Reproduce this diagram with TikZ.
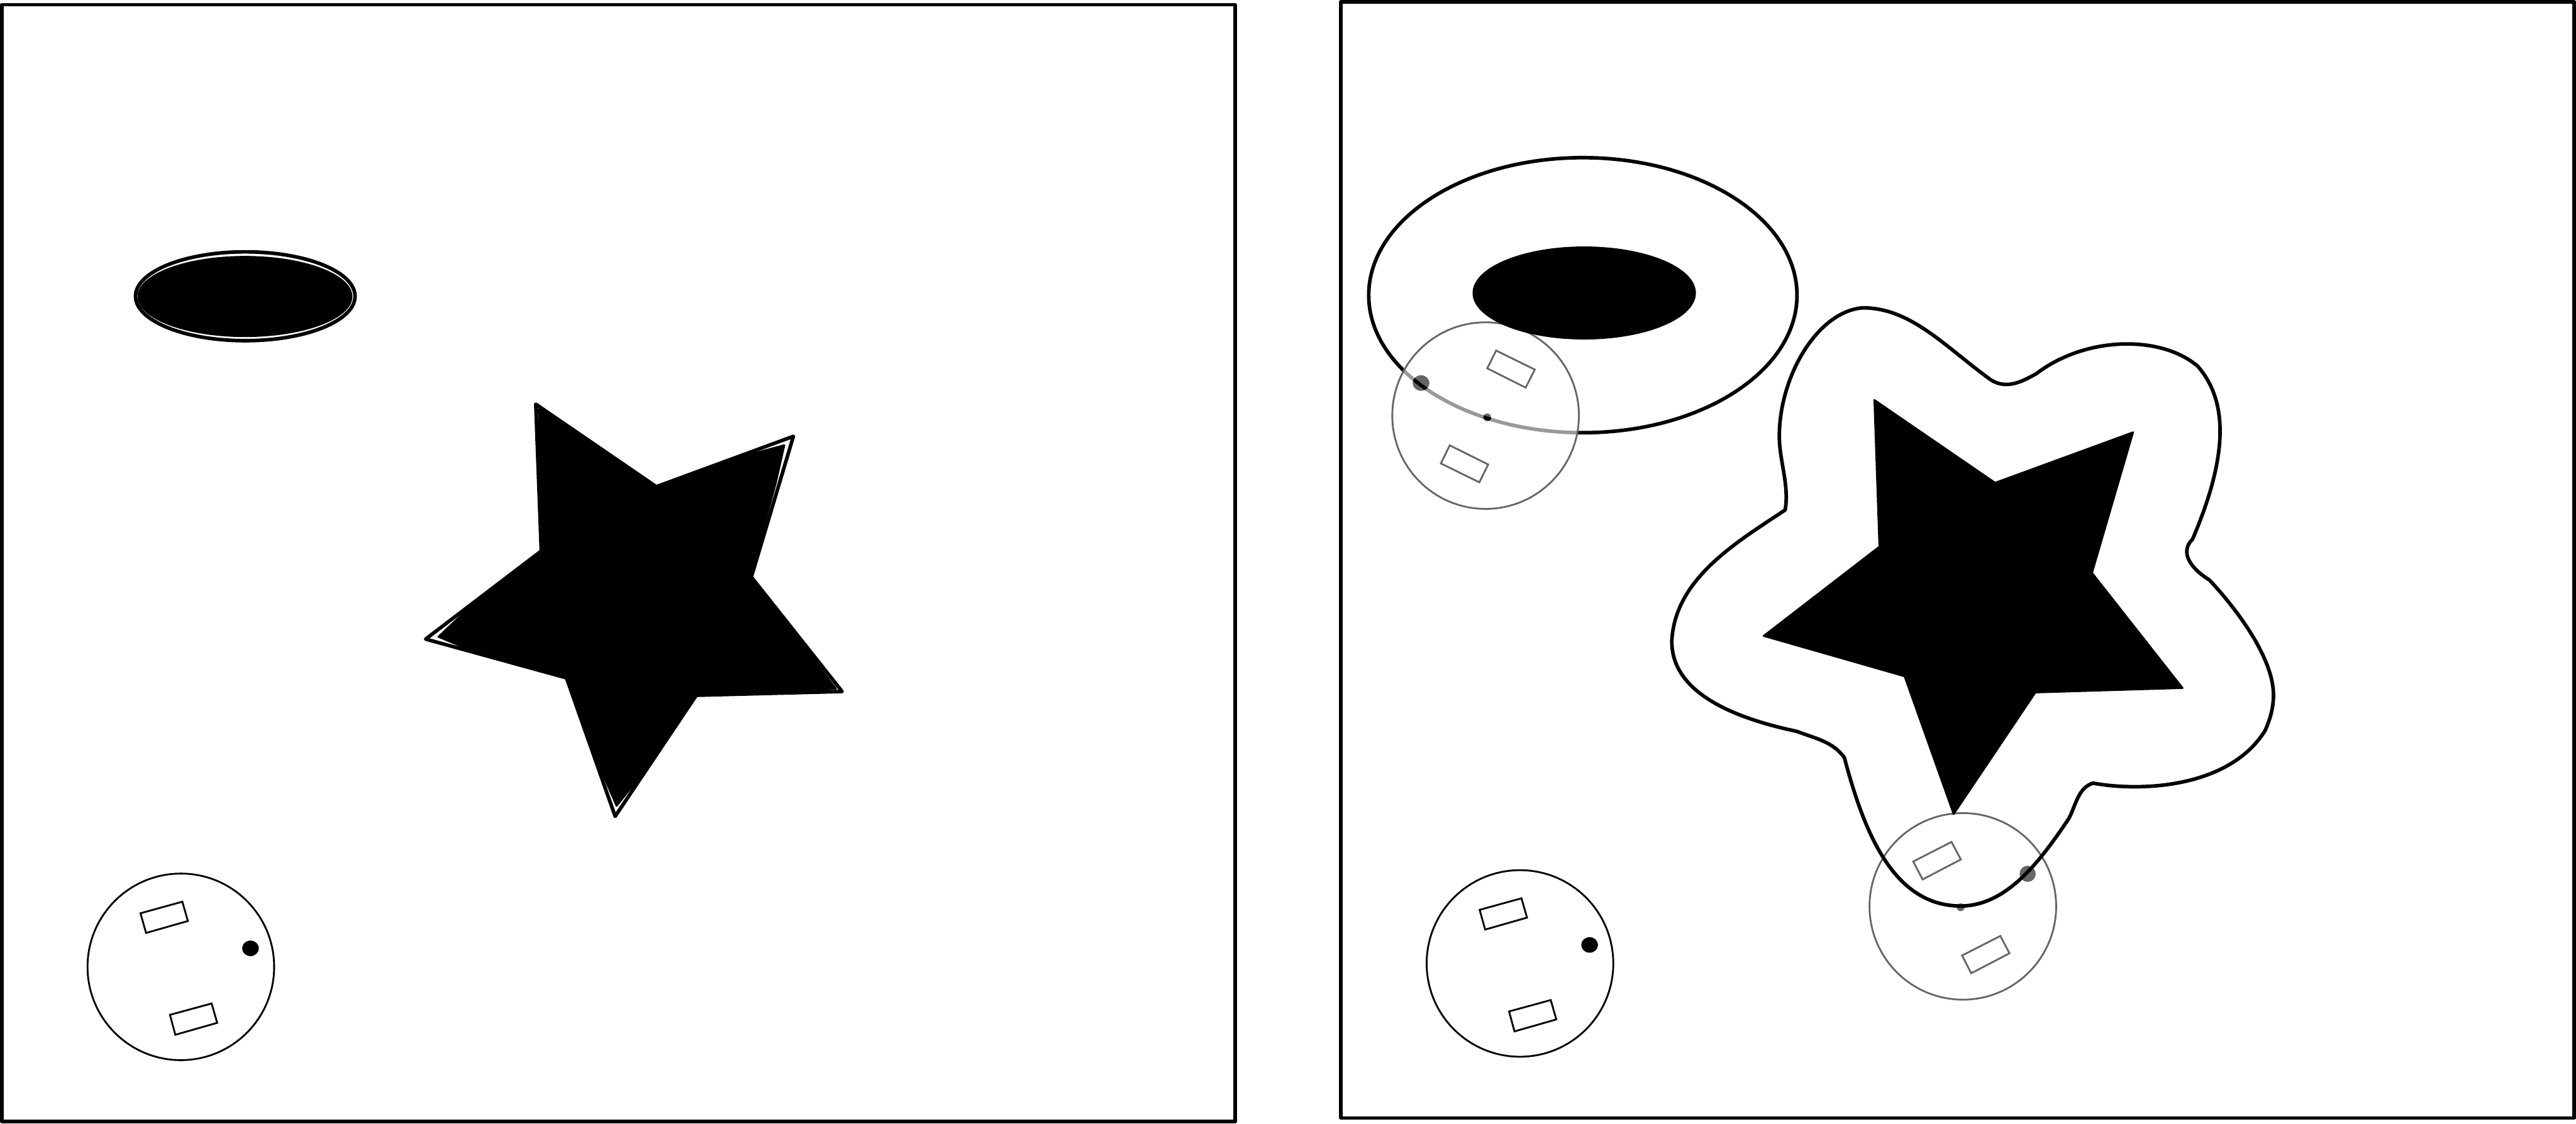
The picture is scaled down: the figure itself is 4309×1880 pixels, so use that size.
\documentclass[tikz,border=0pt]{standalone}
\definecolor{ghostgray}{HTML}{666666}
\begin{document}
\begin{tikzpicture}[
  x=0.01cm, y=-0.01cm,
  frame/.style={draw, line width=0.06cm, line join=round},
  solidshape/.style={fill=black, draw=black, line width=0.03cm, line join=round},
  outline/.style={draw, line width=0.06cm, line join=round},
  robotline/.style={draw, line width=0.03cm},
  ghostline/.style={draw=ghostgray, line width=0.03cm}
]
  \useasboundingbox (0,0) rectangle (4309,1880);
  % frames
  \draw[frame] (3,8) rectangle (2066,1877);
  \draw[frame] (2243,3) rectangle (4306,1871);

  % left panel
  \draw[outline] (410.3,495.8) ellipse [x radius=1.835cm, y radius=0.743cm];
  \fill[black] (409.7,496.2) ellipse [x radius=1.797cm, y radius=0.678cm];
  \draw[outline] (896.2,676.4) -- (1097.8,814.5) -- (1327.1,730.2) -- (1256.8,965.7)
    -- (1408.6,1157.2) -- (1164.7,1163.5) -- (1029,1366.1) -- (947.6,1134.4)
    -- (712,1069.5) -- (905.4,922.1) -- cycle;
  \path[solidshape] (901,684.6) -- (1097.8,816) -- (1252,761.2) -- (1312,745) -- (1298,807.2)
    -- (1254.9,965.7) -- (1398.4,1152.8) -- (1164.7,1162.5) -- (1063,1309) -- (1031.4,1348.7)
    -- (1007.7,1294.4) -- (949.5,1132) -- (777,1084) -- (733.3,1065.6) -- (777,1024.4)
    -- (907.8,923.6) -- cycle;

  % robot at the start and at the goal
  \foreach \dx/\dy in {0/0, 2240/-5.7} {
    \begin{scope}[shift={(\dx,\dy)}]
      \draw[robotline] (302.5,1618) circle [radius=1.56cm];
      \draw[robotline] (235,1528.3) -- (305,1509) -- (314.3,1541.3) -- (244.3,1561.3) -- cycle;
      \draw[robotline] (284.3,1698.3) -- (354,1679.3) -- (363.3,1711.7) -- (293.3,1731.7) -- cycle;
      \fill[black] (419,1587) ellipse [x radius=0.14cm, y radius=0.13cm];
    \end{scope}
  }

  % right panel, ghost robot on the ring
  \draw[outline] (2647.7,494) ellipse [x radius=3.58cm, y radius=2.30cm];
  \fill[white, opacity=0.6] (2485,695.5) circle [radius=1.56cm];
  \draw[ghostline] (2485,695.5) circle [radius=1.56cm];
  \draw[ghostline] (2502.6,586.6) -- (2567.3,618.5) -- (2552,648.7) -- (2487.8,616.4) -- cycle;
  \draw[ghostline] (2425,745.3) -- (2489.3,777.3) -- (2474.5,807.1) -- (2410.2,775.6) -- cycle;
  \fill[ghostgray] (2377,641) ellipse [x radius=0.14cm, y radius=0.13cm];
  \fill[ghostgray] (2487.8,698.5) circle [radius=0.065cm];
  \begin{scope}
    \clip (2377,641) ellipse [x radius=0.14cm, y radius=0.13cm]
      (2487.8,698.5) circle [radius=0.065cm];
    \draw[outline] (2647.7,494) ellipse [x radius=3.58cm, y radius=2.30cm];
  \end{scope}
  \fill[black] (2650,490.3) ellipse [x radius=1.867cm, y radius=0.778cm];

  % ghost robot on the star
  \draw[ghostline] (3283.3,1516.8) circle [radius=1.56cm];
  \draw[ghostline] (3264.3,1409) -- (3280,1438.3) -- (3216,1471.7) -- (3200.3,1441.7) -- cycle;
  \draw[ghostline] (3346,1566.3) -- (3361.3,1595.3) -- (3297.3,1628.7) -- (3282,1599) -- cycle;
  \fill[ghostgray] (3391.7,1462.3) circle [radius=0.135cm];
  \fill[ghostgray] (3279.7,1518.3) circle [radius=0.065cm];

  \path[solidshape] (3135.3,669.3) -- (3337.3,807.9) -- (3568.1,723.4) -- (3499.4,958.7)
    -- (3650.9,1151.4) -- (3404.7,1158.8) -- (3267.9,1362.4) -- (3185.8,1131.8)
    -- (2950.1,1064.2) -- (3143.7,914.8) -- cycle;

  % offset curve round the star
  \begin{scope}[shift={(2760,480)}, x=0.007015cm, y=-0.00676cm]
    \draw[outline] (322,552) .. controls (332,490) and (308,430) .. (308,370)
      .. controls (308,220) and (400,60) .. (507,52)
      .. controls (620,52) and (700,145) .. (805,225)
      .. controls (845,258) and (885,235) .. (920,215)
      .. controls (1040,120) and (1220,120) .. (1305,197)
      .. controls (1370,275) and (1385,400) .. (1292,625)
      .. controls (1262,655) and (1285,695) .. (1332,725)
      .. controls (1400,800) and (1485,920) .. (1485,1010)
      .. controls (1485,1045) and (1475,1075) .. (1465,1098)
      .. controls (1380,1240) and (1170,1250) .. (1055,1228)
      .. controls (1020,1240) and (1015,1280) .. (998,1315)
      .. controls (930,1420) and (850,1532) .. (740,1532)
      .. controls (580,1532) and (510,1350) .. (463,1165)
      .. controls (435,1125) and (395,1118) .. (350,1100)
      .. controls (190,1065) and (50,1000) .. (52,875)
      .. controls (60,720) and (210,630) .. (322,552) -- cycle;
  \end{scope}
\end{tikzpicture}
\end{document}
